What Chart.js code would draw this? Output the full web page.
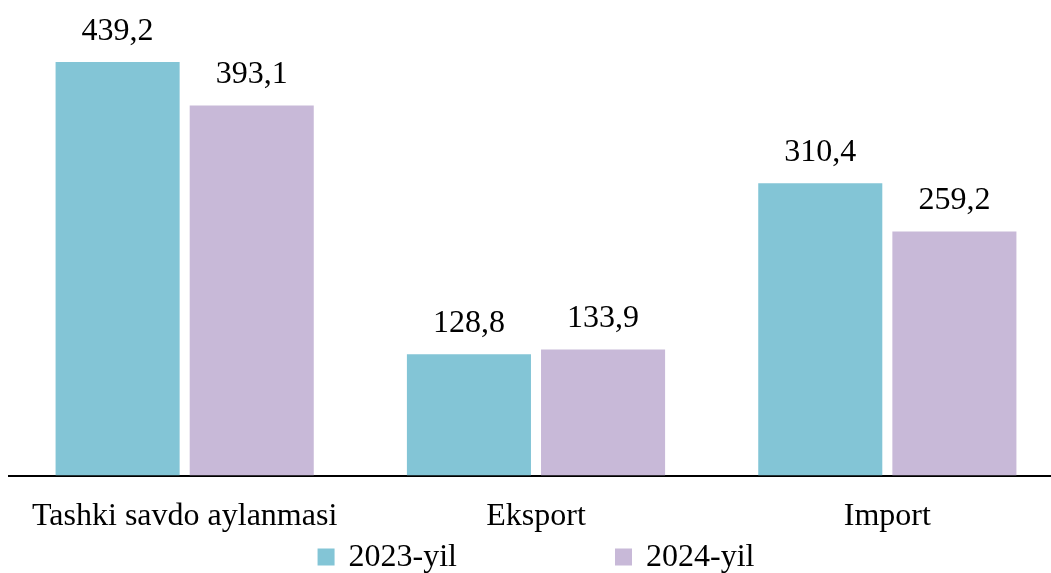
<!DOCTYPE html>
<html>
<head>
<meta charset="utf-8">
<script src="https://cdn.jsdelivr.net/npm/chart.js@4/dist/chart.umd.min.js"></script>
<style>
  html, body { margin: 0; padding: 0; background: #fff; overflow: hidden; }
  #wrap { width: 1063px; height: 573px; position: relative; }
</style>
</head>
<body>
<div id="wrap"><canvas id="tradeChart"></canvas></div>
<script>
// categories and values (mlrd. dollar)
const categories = ['Tashki savdo aylanmasi', 'Eksport', 'Import'];
const values2023 = [439.2, 128.8, 310.4];
const values2024 = [393.1, 133.9, 259.2];
const seriesNames = ['2023-yil', '2024-yil'];

const FONT = "'Liberation Serif', 'Times New Roman', serif";
const colors = ['#83c5d6', '#c8b9d8'];

// value labels above bars
const valueLabels = {
  id: 'valueLabels',
  afterDatasetsDraw(chart) {
    const ctx = chart.ctx;
    ctx.save();
    ctx.font = '32px ' + FONT;
    ctx.fillStyle = '#000';
    ctx.textAlign = 'center';
    ctx.textBaseline = 'alphabetic';
    chart.data.datasets.forEach((ds, i) => {
      chart.getDatasetMeta(i).data.forEach((bar, j) => {
        const txt = ds.data[j].toFixed(1).replace('.', ',');
        ctx.fillText(txt, bar.x, bar.y - 22);
      });
    });
    ctx.restore();
  }
};

// legend drawn under the axis labels
const bottomLegend = {
  id: 'bottomLegend',
  afterDraw(chart) {
    const ctx = chart.ctx;
    const area = chart.chartArea;
    ctx.save();
    ctx.font = '32px ' + FONT;
    ctx.textBaseline = 'middle';
    const box = 17, gapText = 14, gapItem = 158;
    const widths = seriesNames.map(n => box + gapText + ctx.measureText(n).width);
    const total = widths.reduce((a, b) => a + b, 0) + gapItem * (widths.length - 1);
    let x = (area.left + area.right) / 2 - total / 2;
    const y = 557;
    seriesNames.forEach((n, i) => {
      ctx.fillStyle = colors[i];
      ctx.fillRect(x, y - box / 2, box, box);
      ctx.fillStyle = '#000';
      ctx.fillText(n, x + box + gapText, y + 1);
      x += widths[i] + gapItem;
    });
    ctx.restore();
  }
};

new Chart(document.getElementById('tradeChart'), {
  type: 'bar',
  data: {
    labels: categories,
    datasets: [
      { label: seriesNames[0], data: values2023, backgroundColor: colors[0] },
      { label: seriesNames[1], data: values2024, backgroundColor: colors[1] }
    ]
  },
  options: {
    responsive: true,
    maintainAspectRatio: false,
    animation: false,
    categoryPercentage: 0.7635,
    barPercentage: 0.925,
    layout: { padding: { left: 9, right: 0, top: 0, bottom: 15 } },
    plugins: {
      legend: { display: false },
      tooltip: { enabled: false }
    },
    scales: {
      x: {
        grid: { display: false, drawTicks: false },
        border: { display: true, color: '#000', width: 2 },
        ticks: { color: '#000', font: { family: FONT, size: 32 }, padding: 22, maxRotation: 0 }
      },
      y: {
        display: false,
        min: 0,
        max: 505
      }
    }
  },
  plugins: [valueLabels, bottomLegend]
});
</script>
</body>
</html>
